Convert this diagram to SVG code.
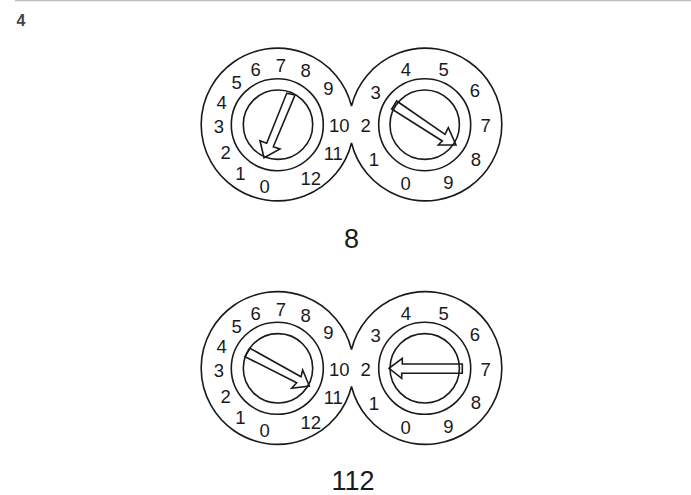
<svg xmlns="http://www.w3.org/2000/svg" width="691" height="495" viewBox="0 0 691 495">
<style>
.l{fill:none;stroke:#1a1a1a;stroke-width:1.6}
.a{fill:#fff;stroke:#1a1a1a;stroke-width:1.6;stroke-linejoin:miter}
text{font-family:"Liberation Sans",Arial,sans-serif;fill:#1a1a1a;text-anchor:middle}
.d{font-size:18.5px}
.c{font-size:27px}
</style>
<rect width="691" height="495" fill="#fff"/>
<line x1="15" y1="0.5" x2="691" y2="0.5" stroke="#bdbdbd" stroke-width="1.5"/>
<text x="21" y="26" style="font-size:16px;font-weight:bold;fill:#444">4</text>
<g id="setting-8">
<path class="l" d="M351.5 106A76.3 76.3 0 1 0 351.5 143A76.3 76.3 0 1 0 351.5 106Z"/>
<g id="dial-8-left">
<polygon class="a" points="286.7,93.3 295,95 273.3,146.7 280,149 264,157.7 260,140.7 266.7,143.3"/>
<circle class="l" cx="277.3" cy="124.7" r="46"/><circle class="l" cx="278" cy="124.7" r="34.7"/>
<g class="d"><text x="236.7" y="89.2">5</text><text x="255.7" y="75.5">6</text><text x="281" y="71.5">7</text><text x="305.7" y="77.2">8</text><text x="328.3" y="94.8">9</text><text x="339.3" y="131.8">10</text><text x="333.3" y="159.8">11</text><text x="310.7" y="184.8">12</text><text x="264.7" y="192.5">0</text><text x="240.3" y="179.8">1</text><text x="225.7" y="158.8">2</text><text x="219" y="133.2">3</text><text x="221.7" y="108.8">4</text></g>
</g>
<g id="dial-8-right">
<polygon class="a" points="396.7,101 391.7,109 442.3,141 438.3,145 456,145 448.3,127.7 445,134.3"/>
<circle class="l" cx="424.7" cy="124.7" r="46"/><circle class="l" cx="424.7" cy="124.7" r="34.7"/>
<g class="d"><text x="375.7" y="98.8">3</text><text x="406" y="75.5">4</text><text x="443.7" y="75.5">5</text><text x="475" y="96.8">6</text><text x="485.7" y="131.5">7</text><text x="476" y="165.8">8</text><text x="448.3" y="188.8">9</text><text x="405.7" y="189.5">0</text><text x="374" y="166.2">1</text><text x="365.7" y="131.5">2</text></g>
</g>
<text class="c" x="351.5" y="248">8</text>
</g>
<g id="setting-112">
<path class="l" d="M351.5 349.5A76.3 76.3 0 1 0 351.5 386.5A76.3 76.3 0 1 0 351.5 349.5Z"/>
<g id="dial-112-left">
<polygon class="a" points="250,348.3 245,356.7 296.7,382.7 291.7,388.3 309.3,386 302.7,370 301,376.7"/>
<circle class="l" cx="277.3" cy="368.3" r="46"/><circle class="l" cx="278" cy="368.3" r="34.7"/>
<g class="d"><text x="236.7" y="332.8">5</text><text x="255.7" y="319.5">6</text><text x="281" y="315.5">7</text><text x="305.7" y="321.5">8</text><text x="328.3" y="339.2">9</text><text x="339.3" y="376.2">10</text><text x="333.3" y="404.2">11</text><text x="310.7" y="428.8">12</text><text x="264.7" y="436.5">0</text><text x="240.3" y="423.8">1</text><text x="225.7" y="402.5">2</text><text x="219" y="377.2">3</text><text x="221.7" y="352.5">4</text></g>
</g>
<g id="dial-112-right">
<polygon class="a" points="462.3,364 462.3,373.3 401.7,373.3 401.7,378.3 389,368.3 402.3,358.3 402.3,364"/>
<circle class="l" cx="424.7" cy="368.3" r="46"/><circle class="l" cx="424.7" cy="368.3" r="34.7"/>
<g class="d"><text x="375.7" y="342.2">3</text><text x="406" y="320.2">4</text><text x="443.7" y="320.2">5</text><text x="475" y="340.8">6</text><text x="485.7" y="375.5">7</text><text x="476" y="409.2">8</text><text x="448.3" y="432.8">9</text><text x="405.7" y="433.8">0</text><text x="374" y="409.8">1</text><text x="365.7" y="375.5">2</text></g>
</g>
<text class="c" x="353" y="490">112</text>
</g>
</svg>
